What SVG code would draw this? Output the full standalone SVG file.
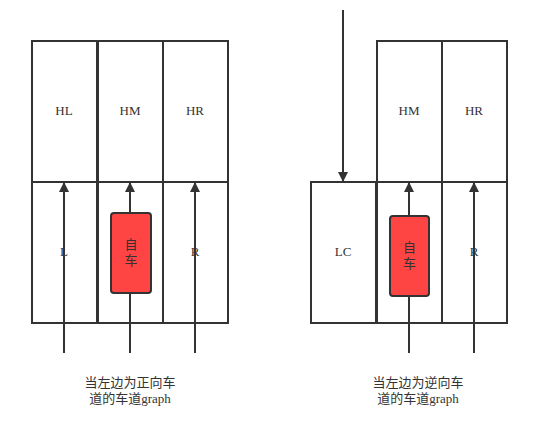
<svg xmlns="http://www.w3.org/2000/svg" width="542" height="432" viewBox="0 0 542 432">
<style>
.cell{fill:#fff;stroke:#333;stroke-width:2}
.car{fill:#ff4444;stroke:#333;stroke-width:2}
.ln{stroke:#333;stroke-width:2;fill:none;marker-end:url(#ah)}
.t{font-family:"Liberation Serif","Noto Sans CJK SC",serif;font-size:13px;fill:#333;text-anchor:middle}
.c{font-family:"Liberation Serif","Noto Sans CJK SC",serif;font-size:13px;fill:#333;text-anchor:middle}
</style>
<defs>
<marker id="ah" markerWidth="10" markerHeight="14" refX="9" refY="5" orient="auto" markerUnits="userSpaceOnUse" viewBox="0 0 10 10">
<path d="M0,0 L10,5 L0,10 z" fill="#333"/>
</marker>
</defs>
<rect width="542" height="432" fill="#fff"/>
<g id="left-HL"><rect class="cell" x="32" y="41" width="65" height="141"/><text class="t" x="64" y="115">HL</text></g>
<g id="left-HM"><rect class="cell" x="98" y="41" width="65" height="141"/><text class="t" x="130" y="115">HM</text></g>
<g id="left-HR"><rect class="cell" x="163" y="41" width="65" height="141"/><text class="t" x="195" y="115">HR</text></g>
<g id="left-L"><rect class="cell" x="32" y="182" width="65" height="141"/><text class="t" x="64" y="256">L</text></g>
<g id="left-M"><rect class="cell" x="98" y="182" width="65" height="141"/></g>
<g id="left-R"><rect class="cell" x="163" y="182" width="65" height="141"/><text class="t" x="195" y="256">R</text></g>
<g id="right-LC"><rect class="cell" x="311" y="182" width="65" height="141"/><text class="t" x="343" y="256">LC</text></g>
<g id="right-HM"><rect class="cell" x="377" y="41" width="65" height="141"/><text class="t" x="409" y="115">HM</text></g>
<g id="right-HR"><rect class="cell" x="442" y="41" width="65" height="141"/><text class="t" x="474" y="115">HR</text></g>
<g id="right-M"><rect class="cell" x="377" y="182" width="65" height="141"/></g>
<g id="right-R"><rect class="cell" x="442" y="182" width="65" height="141"/><text class="t" x="474" y="256">R</text></g>
<g id="connectors">
<line class="ln" x1="64" y1="353" x2="64" y2="183"/>
<line class="ln" x1="130" y1="353" x2="130" y2="183"/>
<line class="ln" x1="195" y1="353" x2="195" y2="183"/>
<line class="ln" x1="409" y1="353" x2="409" y2="183"/>
<line class="ln" x1="474" y1="353" x2="474" y2="183"/>
<line class="ln" x1="343" y1="10" x2="343" y2="181"/>
</g>
<g id="left-car"><rect class="car" x="111" y="213" width="40" height="80" rx="3"/><text class="c" x="131" y="249">自</text><text class="c" x="131" y="265">车</text></g>
<g id="right-car"><rect class="car" x="390" y="216" width="39" height="80" rx="3"/><text class="c" x="409.5" y="252">自</text><text class="c" x="409.5" y="268">车</text></g>
<g id="caption-left"><text class="c" x="130" y="387">当左边为正向车</text><text class="c" x="130" y="403">道的车道graph</text></g>
<g id="caption-right"><text class="c" x="418" y="387">当左边为逆向车</text><text class="c" x="418" y="403">道的车道graph</text></g>
</svg>
